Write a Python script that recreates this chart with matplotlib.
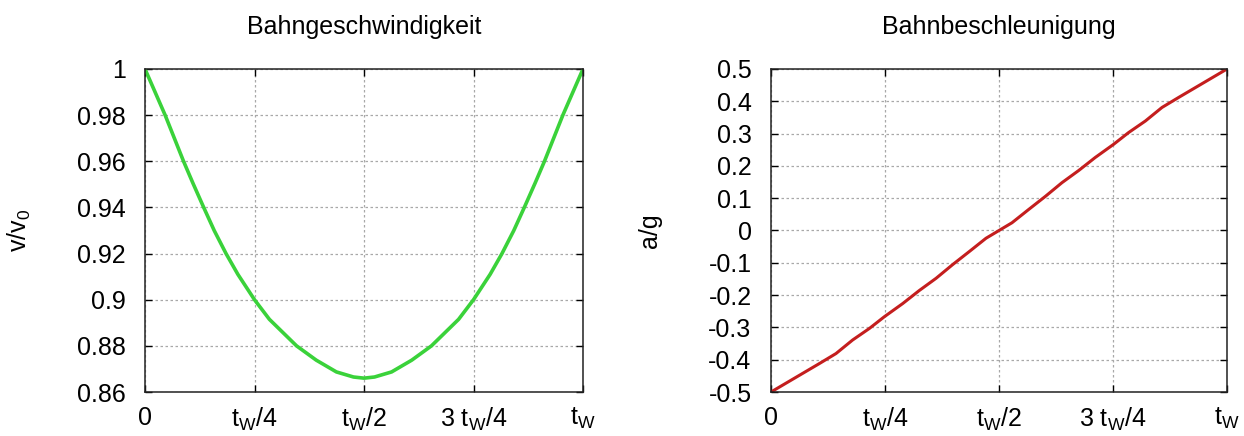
import numpy as np
import matplotlib
matplotlib.use("Agg")
import matplotlib.pyplot as plt

plt.rcParams['font.family'] = ['Liberation Sans', 'DejaVu Sans']
plt.rcParams['mathtext.fontset'] = 'custom'
plt.rcParams['mathtext.rm'] = 'Liberation Sans'
plt.rcParams['mathtext.it'] = 'Liberation Sans'

# Zeit in Einheiten von t_W
t_v = [0.0, 0.046, 0.088, 0.109, 0.134, 0.158, 0.185, 0.212, 0.25, 0.284, 0.346,
       0.391, 0.437, 0.476, 0.5,
       0.524, 0.563, 0.609, 0.654, 0.716, 0.75, 0.788, 0.815, 0.842, 0.866,
       0.891, 0.912, 0.954, 1.0]
v_v0 = [1.0, 0.98, 0.96, 0.9507, 0.94, 0.930, 0.92, 0.911, 0.90, 0.8915, 0.88,
        0.8738, 0.8687, 0.8665, 0.866,
        0.8665, 0.8687, 0.8738, 0.88, 0.8915, 0.90, 0.911, 0.92, 0.930, 0.94,
        0.9507, 0.96, 0.98, 1.0]

t_a = [0.0, 0.106, 0.1425, 0.179, 0.216, 0.2485, 0.289, 0.325, 0.362, 0.398, 0.435,
       0.4715, 0.5,
       0.5285, 0.565, 0.602, 0.638, 0.675, 0.711, 0.7515, 0.784, 0.821, 0.8575,
       0.894, 1.0]
a_g = [-0.5, -0.412, -0.381, -0.339, -0.303, -0.267, -0.226, -0.186, -0.148, -0.106,
       -0.065, -0.024, 0.0,
       0.024, 0.065, 0.106, 0.148, 0.186, 0.226, 0.267, 0.303, 0.339, 0.381,
       0.412, 0.5]

xticks = [0, 0.25, 0.5, 0.75, 1.0]
xlabels = ['0', r'$\mathrm{t}_{\mathrm{W}}/4$', r'$\mathrm{t}_{\mathrm{W}}/2$',
           r'$3\ \mathrm{t}_{\mathrm{W}}/4$', r'$\mathrm{t}_{\mathrm{W}}$']
v_ticks = [0.86, 0.88, 0.9, 0.92, 0.94, 0.96, 0.98, 1.0]
v_ticklabels = ['0.86', '0.88', '0.9', '0.92', '0.94', '0.96', '0.98', '1']
a_ticks = [-0.5, -0.4, -0.3, -0.2, -0.1, 0, 0.1, 0.2, 0.3, 0.4, 0.5]
a_ticklabels = ['-0.5', '-0.4', '-0.3', '-0.2', '-0.1', '0', '0.1', '0.2', '0.3', '0.4', '0.5']

W, H = 1244, 436
fig = plt.figure(figsize=(W / 100, H / 100), dpi=100)
ax1 = fig.add_axes([145 / W, (H - 392) / H, 438 / W, 323 / H])
ax2 = fig.add_axes([771 / W, (H - 392) / H, 456 / W, 323 / H])

FS = 18

def style(ax, yt, ytl, title, ylabel, lx):
    ax.set_xlim(0, 1)
    ax.set_xticks(xticks)
    ax.set_xticklabels(xlabels)
    ax.set_yticks(yt)
    ax.set_yticklabels(ytl)
    ax.set_ylim(yt[0], yt[-1])
    ax.grid(True, color='#a8a8a8', linestyle=(0, (2, 2)), linewidth=0.9)
    ax.tick_params(direction='in', length=5, width=1, top=True, right=True,
                   labelsize=FS, colors='black')
    ax.tick_params(axis='x', pad=10)
    ax.tick_params(axis='y', pad=14)
    for s in ax.spines.values():
        s.set_linewidth(1.1)
        s.set_color('#222222')
    ax.set_title(title, fontsize=18, pad=25)
    ax.set_ylabel(ylabel, fontsize=FS)
    ax.yaxis.set_label_coords(lx, 0.5)

ax1.plot(t_v, v_v0, color='#3ad23a', lw=2.6)
style(ax1, v_ticks, v_ticklabels, 'Bahngeschwindigkeit', r'$\mathrm{v/v}_{0}$', -0.256)

ax2.plot(t_a, a_g, color='#c41e1e', lw=2.2)
style(ax2, a_ticks, a_ticklabels, 'Bahnbeschleunigung', 'a/g', -0.239)

fig.savefig('out.png', dpi=100)
